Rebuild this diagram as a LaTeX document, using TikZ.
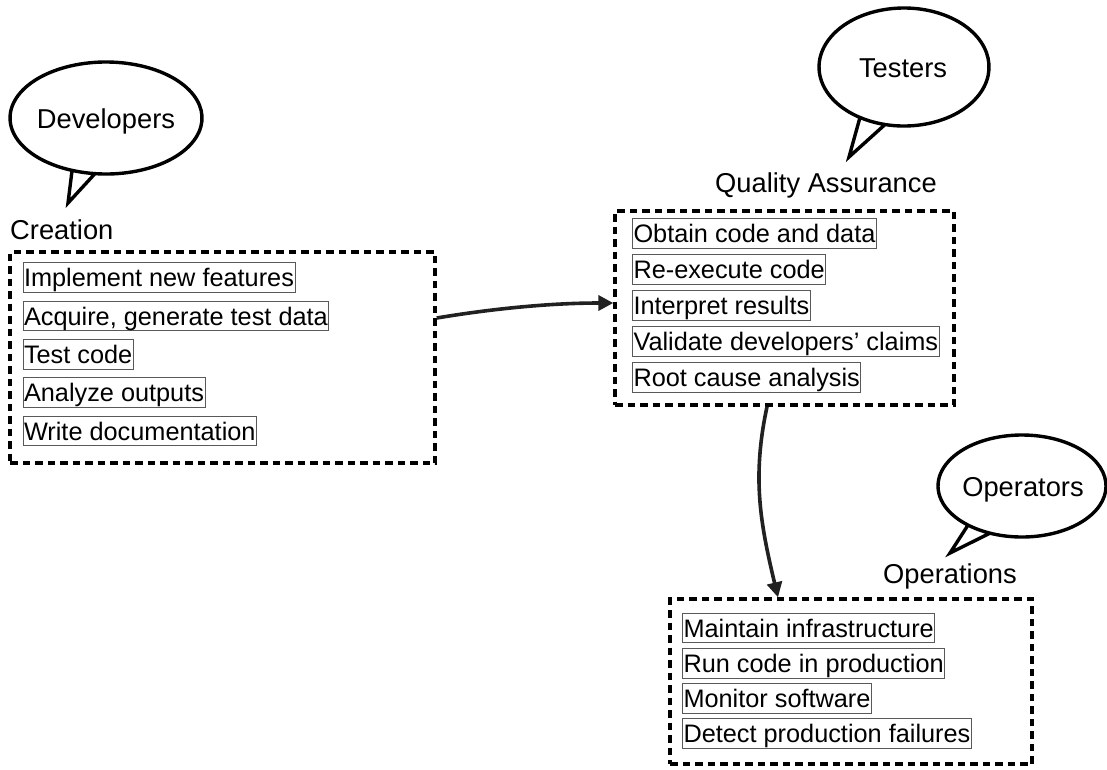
\documentclass[tikz,border=0pt]{standalone}
\usepackage{fontspec}
\setmainfont{Liberation Sans}
\usetikzlibrary{arrows.meta}

\tikzset{
  itemfont/.style={font=\fontsize{25.3}{30}\selectfont},
  labelfont/.style={font=\fontsize{27.3}{32}\selectfont},
  taskbox/.style={itemfont, draw=black!65, line width=1pt, inner sep=1pt,
    text height=23pt, text depth=4.5pt, anchor=west},
  groupbox/.style={draw=black, line width=3.4pt, dash pattern=on 7.5pt off 5pt,
    inner sep=0pt},
  bubble/.style={draw=black, line width=3.4pt, fill=white, line join=miter},
  flow/.style={draw=black!87, line width=3.6pt,
    -{Triangle[length=15pt,width=15pt]}},
}

\begin{document}
\begin{tikzpicture}[x=1pt,y=-1pt]
\useasboundingbox (0,0) rectangle (1107,769);

% speech bubbles: ellipse arc plus tail
\draw[bubble] (106,118) ++(110.7:96 and 56)
  arc[start angle=110.7, end angle=-263.4, x radius=96, y radius=56]
  -- (68,203) -- cycle;
\node[labelfont, anchor=base] (dev) at (106,128) {Developers};

\draw[bubble] (904,67) ++(121.2:85 and 59)
  arc[start angle=121.2, end angle=-257.1, x radius=85, y radius=59]
  -- (849,157) -- cycle;
\node[labelfont, anchor=base] (test) at (903,77) {Testers};

\draw[bubble] (1022,486) ++(130:84 and 51)
  arc[start angle=130, end angle=-247.6, x radius=84, y radius=51]
  -- (950,553) -- cycle;
\node[labelfont, anchor=base] (oper) at (1023,496) {Operators};

% group titles
\node[labelfont, anchor=base west, inner sep=0pt] (creationlabel) at (10,239) {Creation};
\node[labelfont, anchor=base, inner sep=0pt] (qalabel) at (826,192) {Quality Assurance};
\node[labelfont, anchor=base, inner sep=0pt] (opslabel) at (950,583) {Operations};

% group frames
\node[groupbox, minimum width=425pt, minimum height=211pt] (creation) at (222.5,357.5) {};
\node[groupbox, minimum width=339pt, minimum height=194pt] (qa) at (784.5,308) {};
\node[groupbox, minimum width=362pt, minimum height=165pt] (ops) at (851,681.5) {};

% creation tasks
\node[taskbox] (c1) at (22.5,277.5) {Implement new features};
\node[taskbox] (c2) at (22.5,316) {Acquire, generate test data};
\node[taskbox] (c3) at (22.5,354.5) {Test code};
\node[taskbox] (c4) at (22.5,392.5) {Analyze outputs};
\node[taskbox] (c5) at (22.5,431) {Write documentation};

% quality assurance tasks
\node[taskbox] (q1) at (632,233.5) {Obtain code and data};
\node[taskbox] (q2) at (632,269.5) {Re-execute code};
\node[taskbox] (q3) at (632,305.5) {Interpret results};
\node[taskbox] (q4) at (632,341.5) {Validate developers’ claims};
\node[taskbox] (q5) at (632,377.5) {Root cause analysis};

% operations tasks
\node[taskbox] (o1) at (682,628) {Maintain infrastructure};
\node[taskbox] (o2) at (682,663.5) {Run code in production};
\node[taskbox] (o3) at (682,698.5) {Monitor software};
\node[taskbox] (o4) at (682,733.5) {Detect production failures};

% hand-offs between groups
\draw[flow] ([yshift=39.5pt]creation.east) .. controls +(60,-10) and +(-60,0) .. ([yshift=5pt]qa.west);
\draw[flow] ([xshift=-17.5pt]qa.south) .. controls +(-15,70) and +(-18,-75) .. ([xshift=-73pt]ops.north);
\end{tikzpicture}
\end{document}
